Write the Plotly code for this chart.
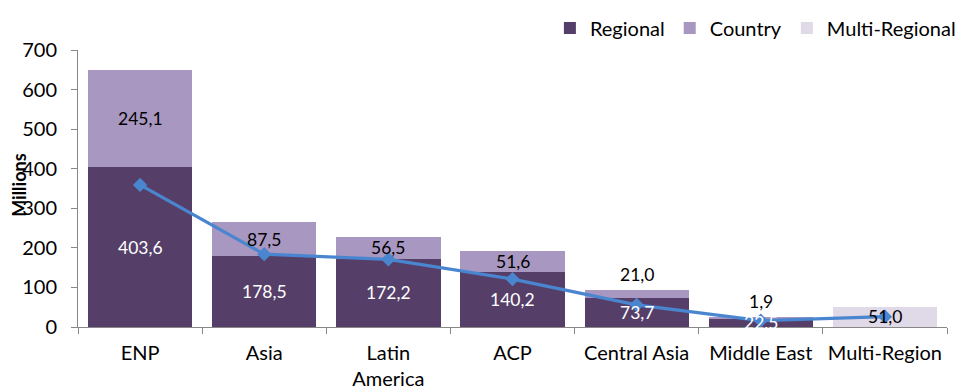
import plotly.graph_objects as go

# Funding by region (EUR millions)
categories = ["ENP", "Asia", "Latin<br>America", "ACP", "Central Asia", "Middle East", "Multi-Region"]
regional = [403.6, 178.5, 172.2, 140.2, 73.7, 22.5, None]
country = [245.1, 87.5, 56.5, 51.6, 21.0, 1.9, None]
multi_regional = [None, None, None, None, None, None, 51.0]
trend = [359, 184, 171, 121, 56, 16, 26]

FONT = "Lato, Calibri, Carlito, sans-serif"
C_REG = "#553f69"
C_CTY = "#a897c0"
C_MULTI = "#e0d9e8"
C_LINE = "#4a86d0"
AXIS = "#888888"


def fmt(v):
    return f"{v:.1f}".replace(".", ",")


fig = go.Figure()
fig.add_bar(x=categories, y=regional, name="Regional", marker_color=C_REG,
            marker_line_width=0)
fig.add_bar(x=categories, y=country, name="Country", marker_color=C_CTY,
            marker_line_width=0)
fig.add_bar(x=categories, y=multi_regional, name="Multi-Regional",
            marker_color=C_MULTI, marker_line_width=0)
fig.add_scatter(x=categories, y=trend, mode="lines+markers", showlegend=False,
                line=dict(color=C_LINE, width=3.2),
                marker=dict(symbol="diamond", size=11, color=C_LINE))

# Segment value labels
annotations = []
for i, cat in enumerate(categories):
    base = 0.0
    for series, colour in ((regional, "white"), (country, "black"), (multi_regional, "black")):
        v = series[i]
        if v is None:
            continue
        top = base + v
        if colour == "black" and v < 30 and base > 0:
            # too thin to hold its label: sit it on top of the segment
            annotations.append(dict(x=cat, y=top, text=fmt(v), showarrow=False,
                                    yanchor="bottom", yshift=3,
                                    font=dict(family=FONT, size=17.5, color=colour)))
        else:
            annotations.append(dict(x=cat, y=base + v / 2, text=fmt(v), showarrow=False,
                                    yanchor="middle",
                                    font=dict(family=FONT, size=17.5, color=colour)))
        base = top

annotations.append(dict(text="<b>Millions</b>", textangle=-90, xref="paper", yref="paper",
                        x=-0.068, y=0.513, xanchor="center", yanchor="middle",
                        showarrow=False, font=dict(family=FONT, size=18, color="black")))

fig.update_layout(
    width=965, height=390,
    margin=dict(l=78, r=18, t=50, b=63, autoexpand=False),
    paper_bgcolor="white", plot_bgcolor="white",
    barmode="stack", bargap=0.16,
    font=dict(family=FONT, size=20, color="black"),
    legend=dict(orientation="h", xref="paper", yref="paper",
                x=1.016, xanchor="right", y=1.15, yanchor="top",
                font=dict(family=FONT, size=20), traceorder="normal",
                itemwidth=30),
    annotations=annotations,
    showlegend=True,
)
fig.update_xaxes(showline=True, linecolor=AXIS, linewidth=1, ticks="outside",
                 tickson="boundaries", ticklen=6, tickcolor=AXIS,
                 showgrid=False, tickfont=dict(family=FONT, size=20),
                 ticklabelstandoff=8)
fig.update_yaxes(range=[0, 700], dtick=100, showline=True, linecolor=AXIS, linewidth=1,
                 ticks="outside", ticklen=6, tickcolor=AXIS, showgrid=False,
                 zeroline=False, tickfont=dict(family=FONT, size=20),
                 ticklabelstandoff=10)

fig.write_html("out.html")
